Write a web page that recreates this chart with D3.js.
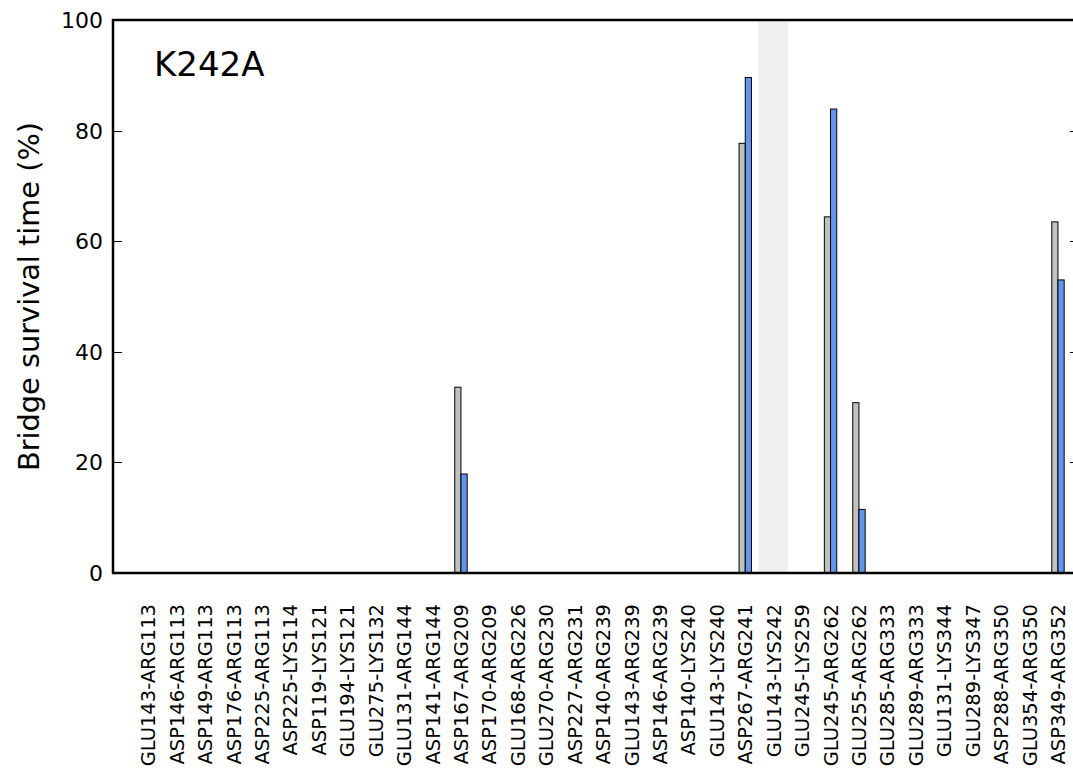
<!DOCTYPE html>
<html>
<head>
<meta charset="utf-8">
<script src="https://cdn.jsdelivr.net/npm/d3@7"></script>
<style>
  html, body { margin: 0; padding: 0; background: #fff; }
  svg { display: block; font-family: "DejaVu Sans", sans-serif; }
</style>
</head>
<body>
<svg id="chart" width="1073" height="773"></svg>
<script>
// Salt bridges (acid–base residue pairs)
const categories = [
  "GLU143-ARG113", "ASP146-ARG113", "ASP149-ARG113", "ASP176-ARG113",
  "ASP225-ARG113", "ASP225-LYS114", "ASP119-LYS121", "GLU194-LYS121",
  "GLU275-LYS132", "GLU131-ARG144", "ASP141-ARG144", "ASP167-ARG209",
  "ASP170-ARG209", "GLU168-ARG226", "GLU270-ARG230", "ASP227-ARG231",
  "ASP140-ARG239", "GLU143-ARG239", "ASP146-ARG239", "ASP140-LYS240",
  "GLU143-LYS240", "ASP267-ARG241", "GLU143-LYS242", "GLU245-LYS259",
  "GLU245-ARG262", "GLU255-ARG262", "GLU285-ARG333", "GLU289-ARG333",
  "GLU131-LYS344", "GLU289-LYS347", "ASP288-ARG350", "GLU354-ARG350",
  "ASP349-ARG352"
];

// Survival time (%) of each bridge, reference system (grey bars)
const wildType = [
  0, 0, 0, 0, 0, 0, 0, 0, 0, 0, 0, 33.6,
  0, 0, 0, 0, 0, 0, 0, 0, 0, 77.7, 0, 0,
  64.4, 30.8, 0, 0, 0, 0, 0, 0, 63.5
];

// Survival time (%) of each bridge, K242A mutant (blue bars)
const mutant = [
  0, 0, 0, 0, 0, 0, 0, 0, 0, 0, 0, 17.9,
  0, 0, 0, 0, 0, 0, 0, 0, 0, 89.6, 0, 0,
  83.9, 11.5, 0, 0, 0, 0, 0, 0, 53.0
];

const yTicks = [0, 20, 40, 60, 80, 100];
const panelLabel = "K242A";
const highlighted = "GLU143-LYS242";

const svg = d3.select("#chart");

const plot = { left: 113, right: 1079, top: 20, bottom: 573 };

const x = d3.scaleLinear()
  .domain([-1.24, categories.length - 1 + 0.74])
  .range([plot.left, plot.right]);

const y = d3.scaleLinear()
  .domain([0, 100])
  .range([plot.bottom, plot.top]);

const barW = 0.218;

// Shaded column marking the mutated residue
const hi = categories.indexOf(highlighted);
svg.append("rect")
  .attr("x", x(hi - 0.55))
  .attr("y", plot.top)
  .attr("width", x(hi + 0.5) - x(hi - 0.55))
  .attr("height", plot.bottom - plot.top)
  .attr("fill", "#f0f0f0");

// Bars
const rows = categories.map((c, i) => ({ c, i, wt: wildType[i], mu: mutant[i] }));

svg.append("g").selectAll("rect")
  .data(rows.filter(d => d.wt > 0))
  .join("rect")
  .attr("x", d => x(d.i - barW))
  .attr("y", d => y(d.wt))
  .attr("width", d => x(d.i) - x(d.i - barW))
  .attr("height", d => y(0) - y(d.wt))
  .attr("fill", "#c0c0c0")
  .attr("stroke", "#000")
  .attr("stroke-width", 1);

svg.append("g").selectAll("rect")
  .data(rows.filter(d => d.mu > 0))
  .join("rect")
  .attr("x", d => x(d.i))
  .attr("y", d => y(d.mu))
  .attr("width", d => x(d.i + barW) - x(d.i))
  .attr("height", d => y(0) - y(d.mu))
  .attr("fill", "#6495ed")
  .attr("stroke", "#000")
  .attr("stroke-width", 1);

// Inward ticks on left and right spines
const innerTicks = yTicks.filter(t => t > 0 && t < 100);
svg.append("g").selectAll("line")
  .data(innerTicks)
  .join("line")
  .attr("x1", plot.left).attr("x2", plot.left + 9)
  .attr("y1", d => Math.round(y(d)) + 0.5).attr("y2", d => Math.round(y(d)) + 0.5)
  .attr("stroke", "#000").attr("stroke-width", 1);
svg.append("g").selectAll("line")
  .data(innerTicks)
  .join("line")
  .attr("x1", plot.right).attr("x2", plot.right - 9)
  .attr("y1", d => Math.round(y(d)) + 0.5).attr("y2", d => Math.round(y(d)) + 0.5)
  .attr("stroke", "#000").attr("stroke-width", 1);

// Frame
svg.append("rect")
  .attr("x", plot.left)
  .attr("y", plot.top)
  .attr("width", plot.right - plot.left)
  .attr("height", plot.bottom - plot.top)
  .attr("fill", "none")
  .attr("stroke", "#000")
  .attr("stroke-width", 2.5);

// Y tick labels
svg.append("g").selectAll("text")
  .data(yTicks)
  .join("text")
  .attr("x", plot.left - 10)
  .attr("y", d => y(d))
  .attr("dy", "0.36em")
  .attr("text-anchor", "end")
  .attr("font-size", 22)
  .attr("fill", "#000")
  .text(d => d);

// X tick labels (vertical)
svg.append("g").selectAll("text")
  .data(rows)
  .join("text")
  .attr("transform", d => `translate(${x(d.i)},${plot.bottom + 31}) rotate(-90)`)
  .attr("dy", "0.36em")
  .attr("text-anchor", "end")
  .attr("font-size", 19.5)
  .attr("fill", "#000")
  .text(d => d.c);

// Y axis title
svg.append("text")
  .attr("transform", `translate(39,${(plot.top + plot.bottom) / 2}) rotate(-90)`)
  .attr("text-anchor", "middle")
  .attr("font-size", 28.8)
  .attr("fill", "#000")
  .text("Bridge survival time (%)");

// Panel label
svg.append("text")
  .attr("x", 154)
  .attr("y", 76)
  .attr("font-size", 34)
  .attr("fill", "#000")
  .text(panelLabel);
</script>
</body>
</html>
